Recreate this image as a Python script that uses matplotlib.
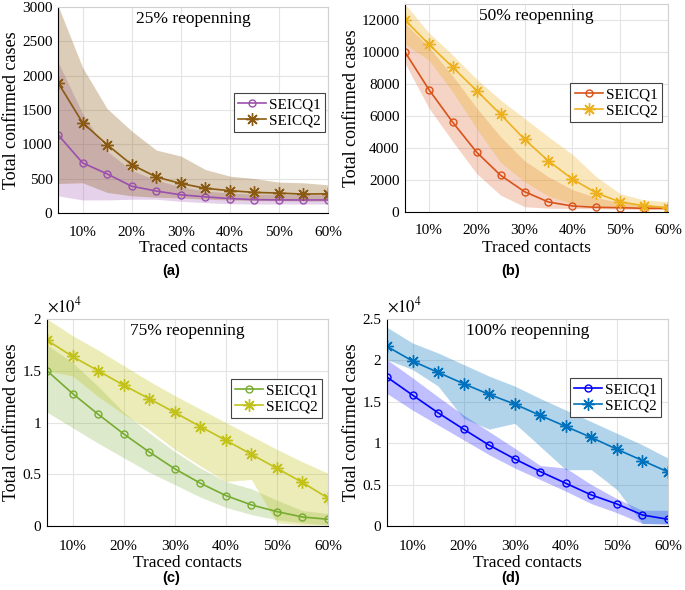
import matplotlib
matplotlib.use("Agg")
import matplotlib.pyplot as plt
import numpy as np

plt.rcParams["font.family"] = ["Liberation Serif", "DejaVu Serif"]
plt.rcParams["mathtext.fontset"] = "stix"

traced = [5, 10, 15, 20, 25, 30, 35, 40, 45, 50, 55, 60]
xticks = [10, 20, 30, 40, 50, 60]

# (a) 25% reopenning
a_q1 = [1140, 730, 570, 390, 320, 265, 235, 210, 195, 190, 190, 190]
a_q2 = [1900, 1315, 995, 705, 525, 430, 360, 325, 300, 290, 275, 280]
a_q1_lo = [250, 190, 190, 200, 200, 170, 150, 135, 130, 130, 130, 130]
a_q1_hi = [2200, 1450, 900, 620, 480, 380, 320, 290, 275, 270, 265, 265]
a_q2_lo = [430, 440, 300, 250, 230, 220, 200, 190, 180, 180, 175, 175]
a_q2_hi = [3020, 2120, 1520, 1195, 917, 830, 634, 537, 502, 450, 440, 410]

# (b) 50% reopenning
b_q1 = [10000, 7650, 5600, 3730, 2290, 1270, 625, 375, 290, 270, 230, 230]
b_q2 = [12000, 10480, 9040, 7580, 6100, 4540, 3190, 2060, 1190, 625, 400, 270]
b_q1_lo = [9300, 6500, 4400, 2400, 1050, 330, 240, 220, 200, 180, 150, 150]
b_q1_hi = [11800, 10300, 8500, 6500, 4700, 3200, 2200, 1400, 900, 600, 450, 350]
b_q2_lo = [10500, 9500, 7500, 5200, 3100, 1900, 1000, 500, 350, 300, 250, 200]
b_q2_hi = [13000, 11200, 9800, 8300, 7000, 5850, 4700, 3600, 2200, 1150, 750, 650]

# (c) 75% reopenning
c_q1 = [15000, 12800, 10800, 8900, 7150, 5530, 4140, 2940, 2040, 1390, 870, 650]
c_q2 = [17950, 16380, 15000, 13600, 12300, 10970, 9610, 8280, 6930, 5570, 4210, 2690]
c_q1_lo = [11000, 9500, 8000, 6600, 5200, 4000, 2800, 1800, 1100, 600, 300, 100]
c_q1_hi = [17500, 15800, 13500, 11000, 9000, 7200, 5600, 4300, 3600, 2500, 1500, 1200]
c_q2_lo = [15000, 14500, 12500, 10800, 9300, 7400, 5800, 4300, 4500, 300, 100, 100]
c_q2_hi = [20000, 18400, 17000, 15500, 14000, 12600, 11300, 10000, 8700, 7400, 6200, 5100]

# (d) 100% reopenning
d_q1 = [17980, 15810, 13670, 11690, 9760, 8100, 6570, 5160, 3750, 2660, 1330, 810]
d_q2 = [21690, 19920, 18550, 17180, 15890, 14720, 13350, 12020, 10690, 9270, 7900, 6530]
d_q1_lo = [16000, 14000, 12200, 10400, 8600, 7000, 5600, 4200, 2700, 1600, 300, 200]
d_q1_hi = [20100, 17900, 15600, 13400, 11400, 9400, 7300, 7000, 5000, 3300, 1900, 1900]
d_q2_lo = [20100, 18900, 16900, 13000, 11700, 12400, 9600, 6800, 6800, 4400, 300, 300]
d_q2_hi = [24000, 22100, 20900, 19500, 18100, 16900, 15400, 14000, 12600, 11200, 9800, 8200]

panels = [
    ("(a)", "25% reopenning", a_q1, a_q2, a_q1_lo, a_q1_hi, a_q2_lo, a_q2_hi,
     "#9b4fae", "#8a5a12", 1, [0, 500, 1000, 1500, 2000, 2500, 3000], 3000),
    ("(b)", "50% reopenning", b_q1, b_q2, b_q1_lo, b_q1_hi, b_q2_lo, b_q2_hi,
     "#d95319", "#edb120", 1, [0, 2000, 4000, 6000, 8000, 10000, 12000], 13000),
    ("(c)", "75% reopenning", c_q1, c_q2, c_q1_lo, c_q1_hi, c_q2_lo, c_q2_hi,
     "#77ac30", "#c2c21a", 1e4, [0, 0.5, 1, 1.5, 2], 2),
    ("(d)", "100% reopenning", d_q1, d_q2, d_q1_lo, d_q1_hi, d_q2_lo, d_q2_hi,
     "#0000ff", "#0072bd", 1e4, [0, 0.5, 1, 1.5, 2, 2.5], 2.5),
]

# axes boxes in pixels: left, right, top, bottom
boxes = [(58, 328, 7, 213), (405, 668, 4, 212), (47, 328, 319, 526), (387, 668, 319, 526)]
legend_anchor = [(0.99, 0.583), (0.977, 0.62), (0.979, 0.71), (0.975, 0.715)]
W, H = 685, 590

fig = plt.figure(figsize=(W / 100, H / 100), dpi=100)

for i, (tag, title, q1, q2, q1_lo, q1_hi, q2_lo, q2_hi, col1, col2, scale, yt, ytop) in enumerate(panels):
    l, r, t, b = boxes[i]
    ax = fig.add_axes([l / W, 1 - b / H, (r - l) / W, (b - t) / H])
    s = float(scale)
    ax.fill_between(traced, np.array(q1_lo) / s, np.array(q1_hi) / s, color=col1, alpha=0.25, lw=0)
    ax.fill_between(traced, np.array(q2_lo) / s, np.array(q2_hi) / s, color=col2, alpha=0.3, lw=0)
    ax.plot(traced, np.array(q1) / s, color=col1, lw=1.2, marker="o", ms=5,
            mfc="none", mew=1.0, label="SEICQ1")
    ax.plot(traced, np.array(q2) / s, color=col2, lw=1.2, marker=(8, 2, 0), ms=9,
            mew=1.0, label="SEICQ2")
    ax.set_xlim(5, 60)
    ax.set_ylim(0, ytop)
    ax.set_xticks(xticks)
    ax.set_xticklabels([f"{v}%" for v in xticks])
    ax.set_yticks(yt)
    ax.set_yticklabels([f"{v:g}" for v in yt])
    ax.tick_params(length=0, labelsize=11)
    ax.tick_params(axis="x", pad=9 if i < 2 else 10)
    ax.tick_params(axis="y", pad=4)
    ax.grid(True, color="#e4e4e4", lw=0.8)
    ax.set_axisbelow(True)
    for side in ("top", "right"):
        ax.spines[side].set_color("#d0d0d0")
        ax.spines[side].set_linewidth(0.8)
    for side in ("left", "bottom"):
        ax.spines[side].set_color("black")
        ax.spines[side].set_linewidth(0.8)
    ax.text(0.5, 0.94, title, transform=ax.transAxes, ha="center", va="center", fontsize=12.5)

    xlab_y = 1 - (248 if i < 2 else 563) / H
    ax.set_xlabel("Traced contacts", fontsize=12.5)
    ax.xaxis.set_label_coords(((l + r) / 2) / W, xlab_y, transform=fig.transFigure)
    ax.xaxis.label.set_va("center")

    ylab_x = (12 if i % 2 == 0 else 352) / W
    ax.set_ylabel("Total confirmed cases", fontsize=13)
    ax.yaxis.set_label_coords(ylab_x, 1 - ((t + b) / 2) / H, transform=fig.transFigure)
    ax.yaxis.label.set_va("center")

    if scale != 1:
        ax.text(0, 1.015, r"$\times10^4$", transform=ax.transAxes, ha="left", va="bottom", fontsize=12)
    leg = ax.legend(loc="upper right", bbox_to_anchor=legend_anchor[i], fontsize=11,
                    fancybox=False, framealpha=1, edgecolor="#444444", handlelength=1.8,
                    borderpad=0.3, labelspacing=0.15, handletextpad=0.2, borderaxespad=0)
    leg.get_frame().set_linewidth(0.8)
    tag_x = 171 if i % 2 == 0 else 511
    tag_y = 271 if i < 2 else 578
    fig.text(tag_x / W, 1 - tag_y / H, tag, ha="center", va="center", fontsize=10.5,
             fontweight="bold", family=["Liberation Sans", "DejaVu Sans"])

fig.savefig("out.png", dpi=100)
